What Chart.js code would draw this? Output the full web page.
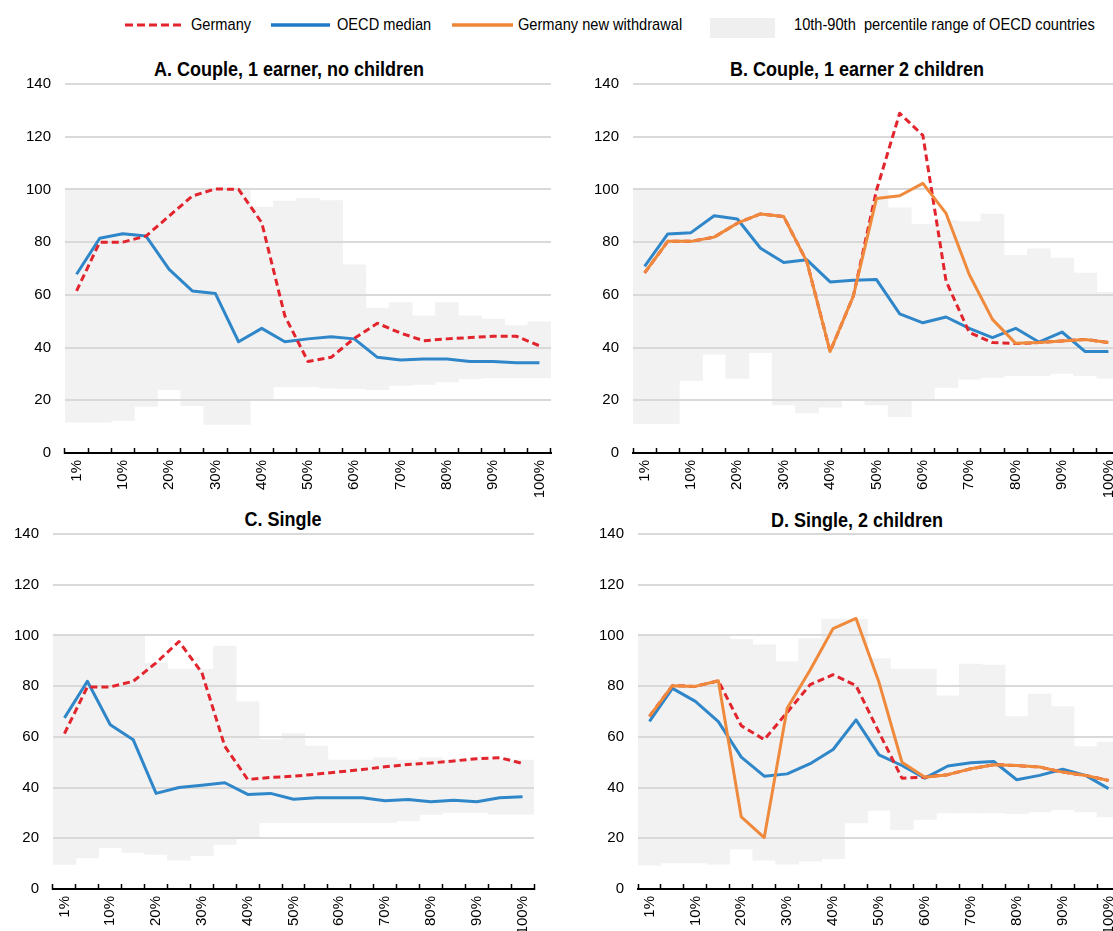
<!DOCTYPE html>
<html>
<head>
<meta charset="utf-8">
<script src="https://cdn.jsdelivr.net/npm/chart.js@4.4.1/dist/chart.umd.min.js"></script>
<style>
  html, body { margin: 0; padding: 0; background: #fff; }
  body { position: relative; width: 1113px; height: 931px; overflow: hidden;
         font-family: 'Liberation Sans', Arial, sans-serif; color: #000; }
  canvas { position: absolute; }
  .ttl { position: absolute; font-weight: bold; font-size: 20px; line-height: 24px;
         white-space: nowrap; transform: translateX(-50%) scaleX(0.9); }
  .lg { position: absolute; top: 15px; font-size: 17px; line-height: 20px; white-space: pre;
        transform-origin: 0 50%; transform: scaleX(0.86); }
  .sw { position: absolute; }
</style>
</head>
<body>
<svg class="sw" style="left:125px;top:19px" width="60" height="12"><line x1="0" y1="6" x2="60" y2="6" stroke="#e2242d" stroke-width="3" stroke-dasharray="8 4"/></svg>
<div class="lg" style="left:191px">Germany</div>
<svg class="sw" style="left:271px;top:19px" width="59" height="12"><line x1="0" y1="6" x2="59" y2="6" stroke="#1f78c8" stroke-width="3.5"/></svg>
<div class="lg" style="left:337px">OECD median</div>
<svg class="sw" style="left:452px;top:19px" width="61" height="12"><line x1="0" y1="6" x2="61" y2="6" stroke="#ef8633" stroke-width="3.5"/></svg>
<div class="lg" style="left:518px">Germany new withdrawal</div>
<div class="sw" style="left:710px;top:18px;width:65px;height:20px;background:#efefef"></div>
<div class="lg" style="left:794px">10th-90th  percentile range of OECD countries</div>

<div class="ttl" style="left:289px;top:57px">A. Couple, 1 earner, no children</div>
<div class="ttl" style="left:857px;top:57px">B. Couple, 1 earner 2 children</div>
<div class="ttl" style="left:283px;top:507px">C. Single</div>
<div class="ttl" style="left:857px;top:508px">D. Single, 2 children</div>

<script>
// Earnings percentiles on the horizontal axis
const percentiles = ['1%','5%','10%','15%','20%','25%','30%','35%','40%','45%','50%',
                     '55%','60%','65%','70%','75%','80%','85%','90%','95%','100%'];

// A. Couple, 1 earner, no children
const aGermany = [61.5, 80, 80, 82.3, 89.9, 97.5, 100.2, 100, 87.4, 52, 34.7, 36.3, 43.5, 49.2, 45.5, 42.6, 43.3, 43.8, 44.3, 44.3, 40.7];
const aOecd    = [67.8, 81.5, 83.2, 82.3, 69.7, 61.5, 60.5, 42.2, 47.3, 42.2, 43.3, 44.1, 43.3, 36.3, 35.3, 35.7, 35.7, 34.7, 34.7, 34.2, 34.2];
const aLow     = [11.7, 11.7, 12.4, 17.7, 24, 18, 10.8, 10.8, 20, 25.2, 25.2, 24.6, 24.4, 24, 25.6, 26, 27, 28.2, 28.5, 28.5, 28.5];
const aHigh    = [100, 100, 100, 100, 100, 100, 100, 100, 93.3, 95.6, 96.6, 95.8, 71.4, 55, 57.1, 52, 57.1, 52, 50.8, 48.3, 49.8];

// B. Couple, 1 earner 2 children
const bGermany = [68.3, 80.3, 80.3, 81.9, 87.2, 90.7, 89.7, 72.5, 38.5, 59.5, 99.7, 128.9, 120.5, 65.2, 45.7, 41.9, 41.5, 41.9, 42.5, 43.1, 41.9];
const bNew     = [68.3, 80.3, 80.3, 81.9, 87.2, 90.7, 89.7, 72.5, 38.5, 59.5, 96.6, 97.6, 102.3, 90.9, 67.7, 50.7, 41.6, 41.9, 42.5, 43.1, 41.9];
const bOecd    = [70.8, 83.1, 83.6, 90, 88.8, 77.7, 72.3, 73.3, 64.9, 65.5, 65.8, 52.8, 49.4, 51.6, 47.3, 43.8, 47.3, 42.1, 45.9, 38.5, 38.5];
const bLow     = [11.1, 11.1, 27.4, 37.5, 28.3, 38.1, 18.2, 15.2, 17.4, 20, 18.2, 13.8, 20, 24.9, 28, 28.7, 29.3, 29.3, 30.2, 29.3, 28.3];
const bHigh    = [100, 100, 100, 100, 100, 100, 100, 100, 100, 100, 100, 93, 86.8, 88.2, 87.8, 90.6, 75, 77.5, 74, 68.3, 61];

// C. Single
const cGermany = [61.3, 79.7, 79.7, 81.9, 89.2, 97.6, 85.3, 56.3, 43.2, 44, 44.5, 45.3, 46.2, 47.1, 48.2, 49.1, 49.7, 50.5, 51.4, 51.8, 49.5];
const cOecd    = [67.5, 81.9, 64.8, 58.9, 37.7, 40, 40.9, 41.9, 37.3, 37.7, 35.4, 36, 36, 36, 34.8, 35.3, 34.4, 35, 34.4, 36, 36.4];
const cLow     = [9.7, 12.3, 16.3, 14.4, 13.6, 11.4, 13.1, 17.6, 20, 26.2, 26.2, 26.2, 26.2, 26.2, 26.2, 26.8, 29.4, 30.2, 30.2, 29.5, 29.5];
const cHigh    = [100, 100, 100, 100, 89.1, 86.6, 86.6, 95.8, 73.8, 58.9, 61.3, 56.4, 50.8, 50.8, 51.7, 50.8, 51.7, 50.8, 50.8, 50.8, 50.8];

// D. Single, 2 children
const dGermany = [68.1, 80.2, 79.9, 82.1, 64.4, 58.9, 69.7, 80.6, 84.5, 80.2, 61.8, 43.7, 44.1, 45.1, 47.4, 49, 48.7, 48.1, 46.1, 44.8, 42.8];
const dNew     = [68.1, 80.2, 79.9, 82.1, 28.4, 20.3, 71.3, 86.4, 102.7, 106.7, 81.5, 50, 44.1, 45.1, 47.4, 49, 48.7, 48.1, 46.1, 44.8, 42.8];
const dOecd    = [66.1, 79.1, 74, 66, 52, 44.5, 45.4, 49.4, 55, 66.7, 52.9, 48.7, 43.7, 48.5, 49.8, 50.3, 43.1, 44.8, 47.2, 44.8, 39.6];
const dLow     = [9.4, 10.3, 10.3, 9.8, 15.7, 11.4, 9.8, 11, 12, 26.1, 31, 23.4, 27.4, 30, 30, 30, 29.7, 30.4, 31.3, 30.4, 28.4];
const dHigh    = [99.8, 99.8, 99.8, 99.8, 98.5, 96.3, 89.7, 98.8, 106.4, 106.4, 90.9, 86.7, 86.7, 76.2, 88.7, 88.3, 68, 76.9, 71.9, 56.2, 57.9];

const yTicks = { min: 0, max: 140, step: 20 };

const RED = '#e2242d', BLUE = '#2f87c9', ORANGE = '#ef8a3d', BAND = '#f2f2f2', GRID = '#d9d9d9';

Chart.defaults.font.family = "'Liberation Sans', Arial, sans-serif";
Chart.defaults.font.size = 15;
Chart.defaults.color = '#000';

// Horizontal gridlines are repainted right after the percentile band so they stay visible on it
const gridOverBand = {
  id: 'gridOverBand',
  afterDatasetDraw(chart, args) {
    if (chart.data.datasets[args.index].isBand) {
      chart.scales.y.drawGrid(chart.chartArea);
    }
  }
};

const Y_AXIS_W = 60, TOP_PAD = 12, RIGHT_PAD = 2, X_AXIS_H = 45;

function panel(area, band, lines) {
  const cv = document.createElement('canvas');
  const w = area.right - area.left + Y_AXIS_W + RIGHT_PAD;
  const h = area.bottom - area.top + TOP_PAD + X_AXIS_H;
  cv.width = w; cv.height = h;
  cv.style.left = (area.left - Y_AXIS_W) + 'px';
  cv.style.top = (area.top - TOP_PAD) + 'px';
  cv.style.width = w + 'px'; cv.style.height = h + 'px';
  document.body.appendChild(cv);

  const datasets = [{
    type: 'bar', isBand: true, label: '10th-90th percentile range of OECD countries',
    data: band.low.map((v, i) => [v, band.high[i]]),
    backgroundColor: BAND, borderWidth: 0, barPercentage: 1, categoryPercentage: 1, order: 10
  }];
  lines.forEach(l => datasets.push({
    type: 'line', label: l.label, data: l.data, borderColor: l.color, backgroundColor: l.color,
    borderWidth: 3, borderDash: l.dash || [], pointRadius: 0, tension: 0,
    borderJoinStyle: 'round', fill: false, order: l.order
  }));

  new Chart(cv, {
    type: 'bar',
    data: { labels: percentiles, datasets },
    plugins: [gridOverBand],
    options: {
      responsive: false, animation: false, events: [],
      layout: { padding: { top: TOP_PAD, right: RIGHT_PAD, left: 0, bottom: 0 } },
      plugins: { legend: { display: false }, tooltip: { enabled: false }, title: { display: false } },
      scales: {
        x: {
          grid: { display: true, offset: true, drawOnChartArea: false, drawTicks: true,
                  tickLength: -5, tickColor: '#000', tickWidth: 1.5 },
          border: { display: true, color: '#000', width: 2 },
          ticks: { autoSkip: false, minRotation: 90, maxRotation: 90, padding: 12,
                   callback(v, i) { return i % 2 === 0 ? this.getLabelForValue(v) : ''; } },
          afterFit(s) { s.height = X_AXIS_H; s.paddingLeft = 0; s.paddingRight = 0; }
        },
        y: {
          min: yTicks.min, max: yTicks.max,
          ticks: { stepSize: yTicks.step, padding: 14 },
          grid: { color: c => (c.tick && c.tick.value === 0) ? 'rgba(0,0,0,0)' : GRID,
                  lineWidth: 2, drawTicks: false },
          border: { display: false },
          afterFit(s) { s.width = Y_AXIS_W; s.paddingTop = 0; s.paddingBottom = 0; }
        }
      }
    }
  });
}

function seriesFor(germany, oecd, fresh) {
  const out = [
    { label: 'OECD median', data: oecd, color: BLUE, order: 3 },
    { label: 'Germany', data: germany, color: RED, dash: [7, 4], order: 2 }
  ];
  if (fresh) out.push({ label: 'Germany new withdrawal', data: fresh, color: ORANGE, order: 1 });
  return out;
}

panel({ left: 65, right: 551, top: 84, bottom: 453 }, { low: aLow, high: aHigh }, seriesFor(aGermany, aOecd));
panel({ left: 633, right: 1120, top: 84, bottom: 453 }, { low: bLow, high: bHigh }, seriesFor(bGermany, bOecd, bNew));
panel({ left: 53, right: 534, top: 534, bottom: 889 }, { low: cLow, high: cHigh }, seriesFor(cGermany, cOecd));
panel({ left: 638, right: 1120, top: 534, bottom: 889 }, { low: dLow, high: dHigh }, seriesFor(dGermany, dOecd, dNew));
</script>
</body>
</html>
